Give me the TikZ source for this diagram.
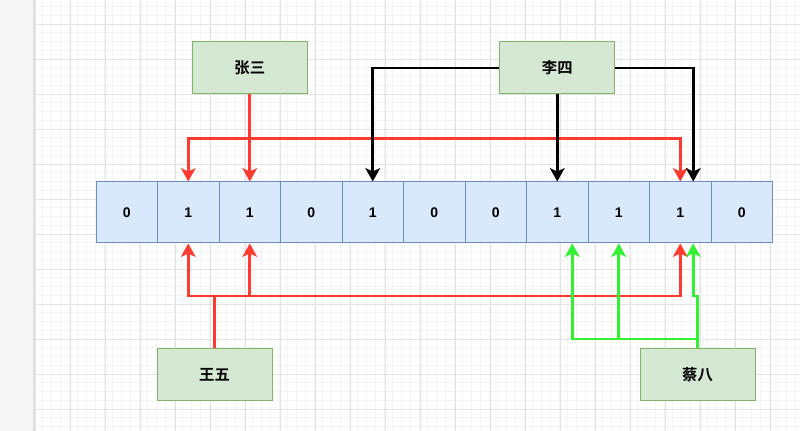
\documentclass[tikz,border=0pt]{standalone}
\usepackage{fontspec}
\setmainfont{Liberation Sans}
\newfontfamily\cjk{Noto Sans CJK SC}[BoldFont={Noto Sans CJK SC Bold}]
\usepackage{tikz}
\usepackage{xcolor}
\usetikzlibrary{arrows.meta, calc}

\definecolor{cellfill}{HTML}{DAE8FC}
\definecolor{celldraw}{HTML}{6C8EBF}
\definecolor{namefill}{HTML}{D5E8D4}
\definecolor{namedraw}{HTML}{82B366}
\definecolor{hitred}{HTML}{FF3B2F}
\definecolor{hitgreen}{HTML}{33F033}

\tikzset{
    cell/.style={draw=celldraw, fill=cellfill, line width=0.75pt, inner sep=0pt,
        minimum width=46.125pt, minimum height=45.75pt, font=\fontsize{10.5}{12}\selectfont\bfseries},
    namebox/.style={draw=namedraw, fill=namefill, line width=0.75pt, inner sep=0pt,
        minimum width=86.25pt, minimum height=39pt, font=\fontsize{11.5}{13}\selectfont\cjk\bfseries},
    link/.style={line width=1.9pt, -{Stealth[length=10pt, width=11pt, inset=2.5pt]}},
    redline/.style={link, hitred},
    blackline/.style={link, black},
    greenline/.style={link, hitgreen},
    minorgrid/.style={gray!9, line width=0.5pt},
    majorgrid/.style={gray!22, line width=0.6pt}
}

\begin{document}
\begin{tikzpicture}[x=0.75pt, y=-0.75pt]
    \useasboundingbox (0,0) rectangle (800,431);

    % canvas
    \fill[white] (0,0) rectangle (800,431);
    \fill[gray!7] (0,0) rectangle (34,431);
    \foreach \gx in {34,42.75,...,800}
        \draw[minorgrid] (\gx,0) -- (\gx,431);
    \foreach \gy in {6.5,15.25,...,431}
        \draw[minorgrid] (34,\gy) -- (800,\gy);
    \foreach \gx in {35,70,...,800}
        \draw[majorgrid] (\gx,0) -- (\gx,431);
    \foreach \gy in {24,59,...,431}
        \draw[majorgrid] (34,\gy) -- (800,\gy);
    \draw[gray!25, line width=0.8pt] (34,0) -- (34,431);

    % bit array
    \foreach \v [count=\i from 0] in {0,1,1,0,1,0,0,1,1,1,0}
        \node[cell] (c\i) at ({96+61.5*(\i+0.5)}, 212.5) {\v};

    % names
    \node[namebox] (zhang) at (249.75, 68)  {张三};
    \node[namebox] (li)    at (557.25, 68)  {李四};
    \node[namebox] (wang)  at (214.5, 374.5) {王五};
    \node[namebox] (cai)   at (697.5, 374.5) {蔡八};

    % 张三
    \draw[redline] (zhang.south) -- (c2.north);
    \draw[redline] (zhang.south) -- ++(0,44) coordinate (zbus) -| (c1.north);
    \draw[redline] (zbus) -| (c9.north);

    % 李四
    \draw[blackline] (li.west) -| (c4.north);
    \draw[blackline] (li.south) -- (c7.north);
    \draw[blackline] (li.east) -| ($(c9.north)+(13,0)$);

    % 王五
    \draw[redline] (wang.north) -- ++(0,-52) coordinate (wbus) -| (c1.south);
    \draw[redline] (wbus) -| (c2.south);
    \draw[redline] (wbus) -| (c9.south);

    % 蔡八
    \draw[greenline] (cai.north) -- ++(0,-9) coordinate (cbus) -| ($(c7.south)+(15,0)$);
    \draw[greenline] (cbus) -| (c8.south);
    \draw[greenline] (cai.north) -- ++(0,-52) -| ($(c9.south)+(13,0)$);
\end{tikzpicture}
\end{document}
